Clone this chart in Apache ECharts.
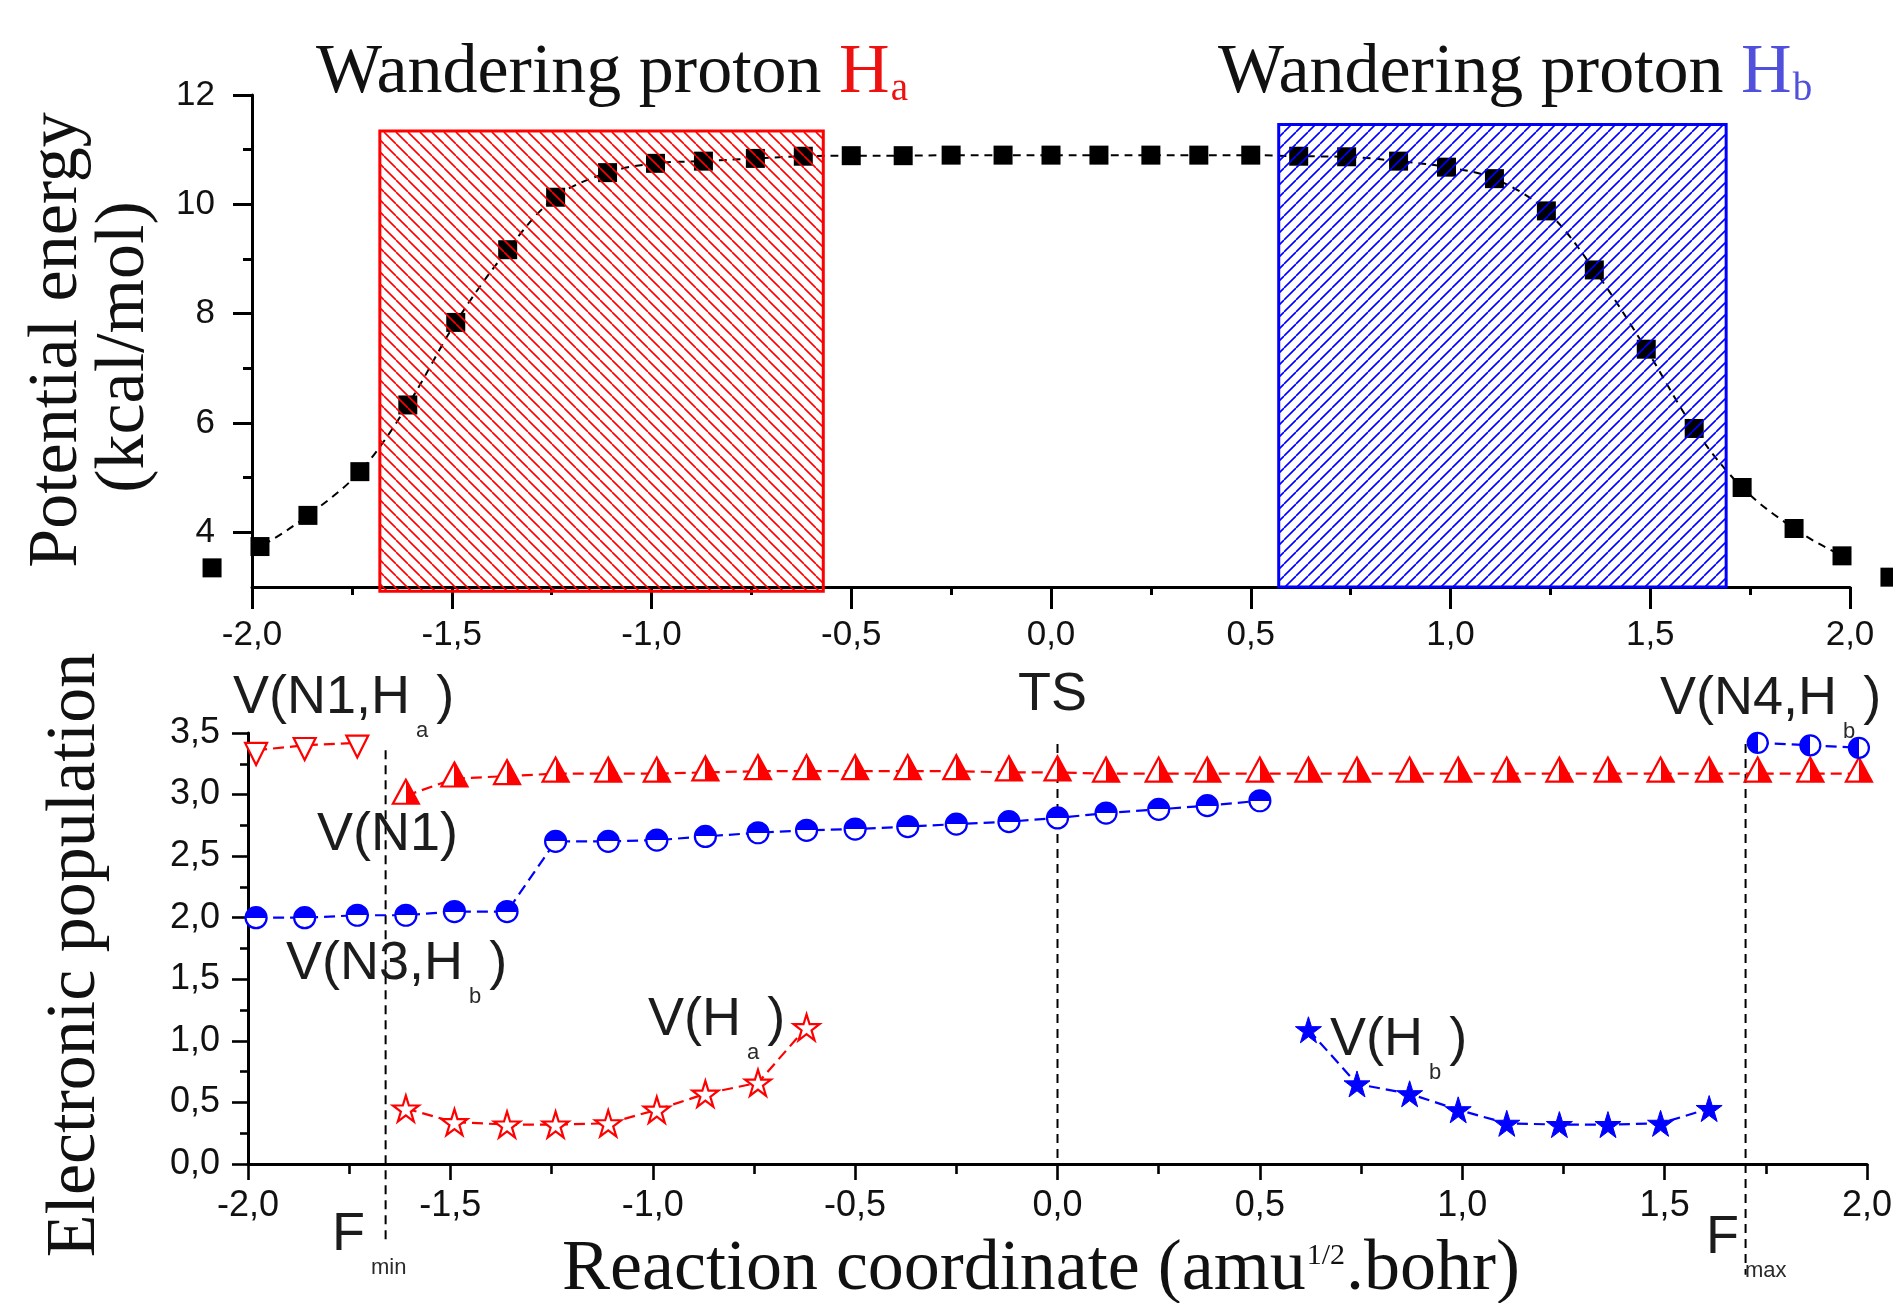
<!DOCTYPE html>
<html>
<head>
<meta charset="utf-8">
<script src="https://cdn.jsdelivr.net/npm/echarts@6.0.0/dist/echarts.min.js"></script>
<style>
html, body { margin: 0; padding: 0; background: #fff; }
#main { width: 1893px; height: 1303px; }
</style>
</head>
<body>
<div id="main"></div>
<script>
// reaction coordinate of the IRC points (amu^1/2.bohr)
var coordX = [-2.10, -1.98, -1.86, -1.73, -1.61, -1.49, -1.36, -1.24, -1.11, -0.99, -0.87, -0.74, -0.62, -0.50, -0.37, -0.25, -0.12, 0.00,
    0.12, 0.25, 0.37, 0.50, 0.62, 0.74, 0.87, 0.99, 1.11, 1.24, 1.36, 1.49, 1.61, 1.73, 1.86, 1.98, 2.10];
// potential energy (kcal/mol)
var energy = [3.35, 3.74, 4.31, 5.11, 6.33, 7.84, 9.17, 10.13, 10.58, 10.75, 10.79, 10.84, 10.88, 10.89, 10.89, 10.90, 10.90, 10.90,
    10.90, 10.90, 10.90, 10.90, 10.88, 10.87, 10.79, 10.68, 10.47, 9.88, 8.80, 7.35, 5.90, 4.82, 4.07, 3.57, 3.18];

// wandering proton regions (top panel)
var regionX0 = [-1.68, 0.57];
var regionX1 = [-0.57, 1.69];
var regionY0 = [2.92, 3.00];
var regionY1 = [11.34, 11.46];

// electronic populations of the basins
var vN1HaX = [-1.98, -1.86, -1.73];
var vN1HaY = [3.36, 3.40, 3.42];
var vN1X = [-1.61, -1.49, -1.36, -1.24, -1.11, -0.99, -0.87, -0.74, -0.62, -0.50, -0.37, -0.25, -0.12, 0.00, 0.12,
    0.25, 0.37, 0.50, 0.62, 0.74, 0.87, 0.99, 1.11, 1.24, 1.36, 1.49, 1.61, 1.73, 1.86, 1.98];
var vN1Y = [2.99, 3.13, 3.15, 3.17, 3.17, 3.17, 3.18, 3.19, 3.19, 3.19, 3.19, 3.19, 3.18, 3.18, 3.17,
    3.17, 3.17, 3.17, 3.17, 3.17, 3.17, 3.17, 3.17, 3.17, 3.17, 3.17, 3.17, 3.17, 3.17, 3.17];
var vN3HbX = [-1.98, -1.86, -1.73, -1.61, -1.49, -1.36, -1.24, -1.11, -0.99, -0.87, -0.74, -0.62, -0.50, -0.37, -0.25,
    -0.12, 0.00, 0.12, 0.25, 0.37, 0.50];
var vN3HbY = [2.00, 2.00, 2.02, 2.02, 2.05, 2.05, 2.62, 2.62, 2.63, 2.66, 2.69, 2.71, 2.72, 2.74, 2.76,
    2.78, 2.81, 2.85, 2.88, 2.91, 2.95];
var vN4HbX = [1.73, 1.86, 1.98];
var vN4HbY = [3.42, 3.40, 3.38];
var vHaX = [-1.61, -1.49, -1.36, -1.24, -1.11, -0.99, -0.87, -0.74, -0.62];
var vHaY = [0.45, 0.34, 0.32, 0.32, 0.33, 0.44, 0.57, 0.66, 1.11];
var vHbX = [0.62, 0.74, 0.87, 0.99, 1.11, 1.24, 1.36, 1.49, 1.61];
var vHbY = [1.09, 0.65, 0.57, 0.44, 0.33, 0.32, 0.32, 0.33, 0.45];

// dashed guides: Fmin, TS, Fmax
var guideX = [-1.66, 0.00, 1.70];
var guideTop = [3.36, 3.41, 3.41];
var guideBottom = [-0.64, 0.00, -0.90];

var topMajor = [4, 6, 8, 10, 12];
var topMinor = [5, 7, 9, 11];

var SANS = '"Liberation Sans", Arial, sans-serif';
var SERIF = '"Liberation Serif", "Times New Roman", serif';
var INK = '#111111';
var RED = '#ff0000';
var BLUE = '#0000ff';

function zip(xs, ys) {
    var out = [];
    for (var i = 0; i < xs.length; i++) {
        out.push([xs[i], ys[i]]);
    }
    return out;
}
function comma(v) {
    return v.toFixed(1).replace('.', ',');
}
//斜线填充
function hatch(color, dir) {
    var s = 12;
    var c = document.createElement('canvas');
    c.width = s;
    c.height = s;
    var ctx = c.getContext('2d');
    ctx.strokeStyle = color;
    ctx.lineWidth = 1.6;
    ctx.beginPath();
    for (var k = -1; k <= 1; k++) {
        if (dir > 0) {
            ctx.moveTo(k * s, 0);
            ctx.lineTo(k * s + s, s);
        } else {
            ctx.moveTo(k * s + s, 0);
            ctx.lineTo(k * s, s);
        }
    }
    ctx.stroke();
    return c;
}
var patterns = [
    { image: hatch(RED, 1), repeat: 'repeat' },
    { image: hatch(BLUE, -1), repeat: 'repeat' }
];
var regionColors = [RED, BLUE];

function halfFill(color, horizontal, firstColored) {
    var a = firstColored ? color : '#ffffff';
    var b = firstColored ? '#ffffff' : color;
    return new echarts.graphic.LinearGradient(0, 0, horizontal ? 1 : 0, horizontal ? 0 : 1, [
        { offset: 0, color: a }, { offset: 0.5, color: a },
        { offset: 0.5, color: b }, { offset: 1, color: b }
    ]);
}

var STAR = 'path://M12 0 L14.8 8.6 L24 8.6 L16.6 13.9 L19.4 22.6 L12 17.3 L4.6 22.6 L7.4 13.9 L0 8.6 L9.2 8.6 Z';
var DOWN = 'path://M0 0 L22 0 L11 22 Z';

function popLine(xs, ys, color, extra) {
    var s = {
        type: 'line',
        xAxisIndex: 1,
        yAxisIndex: 2,
        data: zip(xs, ys),
        showSymbol: true,
        showAllSymbol: true,
        clip: false,
        silent: true,
        z: 3,
        lineStyle: { color: color, width: 2.2, type: [11, 6] },
        itemStyle: { color: color, borderColor: color, borderWidth: 2.2 }
    };
    for (var key in extra) {
        s[key] = extra[key];
    }
    return s;
}

// 文字
var measure = document.createElement('canvas').getContext('2d');
function textW(str, size, family) {
    measure.font = size + 'px ' + family;
    return measure.measureText(str).width;
}
function word(x, base, str, size, family, color) {
    return {
        type: 'text', x: x, y: base - 0.35 * size, silent: true, z: 100,
        style: {
            text: str, font: size + 'px ' + family, fill: color,
            align: 'left', verticalAlign: 'middle', textAlign: 'left', textVerticalAlign: 'middle'
        }
    };
}
var texts = [];
function vLabel(x, base, pre, sub, post) {
    texts.push(word(x, base, pre, 54, SANS, '#1c1c1c'));
    var xs = x + textW(pre, 54, SANS) + 6;
    texts.push(word(xs, base + 22, sub, 22, SANS, '#2a2a2a'));
    if (post) {
        texts.push(word(xs + textW(sub, 22, SANS) + 8, base, post, 54, SANS, '#1c1c1c'));
    }
}
function heading(x, pre, h, sub, color) {
    texts.push(word(x, 97.7, pre, 70, SERIF, INK));
    var xh = x + textW(pre, 70, SERIF);
    texts.push(word(xh, 97.7, h, 70, SERIF, color));
    texts.push(word(xh + textW(h, 70, SERIF) + 1, 103.5, sub, 39, SERIF, color));
}
function vertical(cx, cy, str) {
    texts.push({
        type: 'text', x: cx, y: cy, rotation: Math.PI / 2, silent: true, z: 100,
        style: {
            text: str, font: '70px ' + SERIF, fill: INK,
            align: 'center', verticalAlign: 'middle', textAlign: 'center', textVerticalAlign: 'middle'
        }
    });
}

heading(316, 'Wandering proton ', 'H', 'a', '#ee1111');
heading(1218, 'Wandering proton ', 'H', 'b', '#5050dd');
vertical(58, 340, 'Potential energy');
vertical(125, 347, '(kcal/mol)');
vertical(76, 955, 'Electronic population');

vLabel(233, 716.7, 'V(N1,H', 'a', ')');
texts.push(word(1018, 713.6, 'TS', 54, SANS, '#1c1c1c'));
vLabel(1660, 718, 'V(N4,H', 'b', ')');
texts.push(word(317, 854, 'V(N1)', 54, SANS, '#1c1c1c'));
vLabel(286, 983, 'V(N3,H', 'b', ')');
vLabel(648, 1039, 'V(H', 'a', ')');
vLabel(1330, 1059, 'V(H', 'b', ')');
vLabel(332, 1253.7, 'F', 'min', '');
vLabel(1706, 1256.8, 'F', 'max', '');

(function () {
    var x = 562, base = 1295;
    var pre = 'Reaction coordinate (amu';
    texts.push(word(x, base, pre, 72, SERIF, INK));
    x += textW(pre, 72, SERIF) + 1;
    texts.push(word(x, base - 28, '1/2', 30, SERIF, INK));
    x += textW('1/2', 30, SERIF) + 1;
    texts.push(word(x, base, '.bohr)', 72, SERIF, INK));
})();

var axisLine = { show: true, onZero: false, lineStyle: { color: '#000', width: 3 } };

var chart = echarts.init(document.getElementById('main'));
var option = {
    animation: false,
    backgroundColor: '#ffffff',
    grid: [
        { left: 252, top: 95, width: 1598, height: 492, containLabel: false, outerBoundsMode: 'none' },
        { left: 248, top: 733, width: 1619, height: 431, containLabel: false, outerBoundsMode: 'none' }
    ],
    xAxis: [{
        gridIndex: 0, type: 'value', min: -2, max: 2, interval: 0.5,
        axisLine: axisLine,
        axisTick: { show: true, length: 22, lineStyle: { color: '#000', width: 3 } },
        minorTick: { show: true, splitNumber: 2, length: 8, lineStyle: { color: '#000', width: 3 } },
        splitLine: { show: false },
        axisLabel: { margin: 31, fontSize: 35, fontFamily: SANS, color: INK, formatter: comma }
    }, {
        gridIndex: 1, type: 'value', min: -2, max: 2, interval: 0.5,
        axisLine: axisLine,
        axisTick: { show: true, length: 16, lineStyle: { color: '#000', width: 2.6 } },
        minorTick: { show: true, splitNumber: 2, length: 10, lineStyle: { color: '#000', width: 2.6 } },
        splitLine: { show: false },
        axisLabel: { margin: 24, fontSize: 36, fontFamily: SANS, color: INK, formatter: comma }
    }],
    yAxis: [{
        gridIndex: 0, type: 'value', min: 3, max: 12, interval: 1, position: 'left',
        axisLine: axisLine,
        axisTick: { show: true, customValues: topMajor, length: 19, lineStyle: { color: '#000', width: 3 } },
        splitLine: { show: false },
        axisLabel: { customValues: topMajor, margin: 37, fontSize: 35, fontFamily: SANS, color: INK }
    }, {
        gridIndex: 0, type: 'value', min: 3, max: 12, interval: 1, position: 'left', offset: 0,
        axisLine: { show: false, onZero: false },
        axisTick: { show: true, customValues: topMinor, length: 9, lineStyle: { color: '#000', width: 3 } },
        splitLine: { show: false },
        axisLabel: { show: false }
    }, {
        gridIndex: 1, type: 'value', min: 0, max: 3.5, interval: 0.5, position: 'left',
        axisLine: axisLine,
        axisTick: { show: true, length: 16, lineStyle: { color: '#000', width: 2.6 } },
        minorTick: { show: true, splitNumber: 2, length: 8, lineStyle: { color: '#000', width: 2.6 } },
        splitLine: { show: false },
        axisLabel: { margin: 28, fontSize: 36, fontFamily: SANS, color: INK, formatter: comma }
    }],
    series: [{
        type: 'line',
        xAxisIndex: 0,
        yAxisIndex: 0,
        data: zip(coordX, energy),
        smooth: 0.35,
        clip: false,
        silent: true,
        showAllSymbol: true,
        symbol: 'rect',
        symbolSize: 19,
        z: 2,
        lineStyle: { color: '#000', width: 2, type: [8, 6] },
        itemStyle: { color: '#000' }
    }, {
        type: 'custom',
        xAxisIndex: 0,
        yAxisIndex: 0,
        clip: false,
        silent: true,
        z: 5,
        encode: { x: [0, 1], y: [2, 3] },
        data: zip(regionX0, regionX1).map(function (d, i) {
            return [d[0], d[1], regionY0[i], regionY1[i]];
        }),
        renderItem: function (params, api) {
            var p0 = api.coord([api.value(0), api.value(3)]);
            var p1 = api.coord([api.value(1), api.value(2)]);
            return {
                type: 'rect',
                shape: { x: p0[0], y: p0[1], width: p1[0] - p0[0], height: p1[1] - p0[1] },
                style: { fill: patterns[params.dataIndex], stroke: regionColors[params.dataIndex], lineWidth: 3 }
            };
        }
    }, {
        type: 'custom',
        xAxisIndex: 1,
        yAxisIndex: 2,
        clip: false,
        silent: true,
        z: 2,
        encode: { x: 0, y: [1, 2] },
        data: zip(guideX, guideTop).map(function (d, i) {
            return [d[0], d[1], guideBottom[i]];
        }),
        renderItem: function (params, api) {
            var a = api.coord([api.value(0), api.value(1)]);
            var b = api.coord([api.value(0), api.value(2)]);
            return {
                type: 'line',
                shape: { x1: a[0], y1: a[1], x2: b[0], y2: b[1] },
                style: { stroke: '#000', lineWidth: 2, lineDash: [9, 6] }
            };
        }
    },
    popLine(vN1HaX, vN1HaY, RED, {
        symbol: DOWN, symbolSize: 22, symbolOffset: [0, 3.7],
        itemStyle: { color: '#ffffff', borderColor: RED, borderWidth: 2.2 }
    }),
    popLine(vN1X, vN1Y, RED, {
        symbol: 'triangle', symbolSize: [26, 24], symbolOffset: [0, -4],
        itemStyle: { color: halfFill(RED, true, false), borderColor: RED, borderWidth: 2.2 }
    }),
    popLine(vN3HbX, vN3HbY, BLUE, {
        symbol: 'circle', symbolSize: 21,
        itemStyle: { color: halfFill(BLUE, false, true), borderColor: BLUE, borderWidth: 2.2 }
    }),
    popLine(vN4HbX, vN4HbY, BLUE, {
        symbol: 'circle', symbolSize: 20,
        itemStyle: { color: halfFill(BLUE, true, true), borderColor: BLUE, borderWidth: 2.2 }
    }),
    popLine(vHaX, vHaY, RED, {
        symbol: STAR, symbolSize: 26,
        itemStyle: { color: '#ffffff', borderColor: RED, borderWidth: 2.2 }
    }),
    popLine(vHbX, vHbY, BLUE, {
        symbol: STAR, symbolSize: 26,
        itemStyle: { color: BLUE, borderColor: BLUE, borderWidth: 1 }
    })],
    graphic: { elements: texts }
};
chart.setOption(option);
</script>
</body>
</html>
